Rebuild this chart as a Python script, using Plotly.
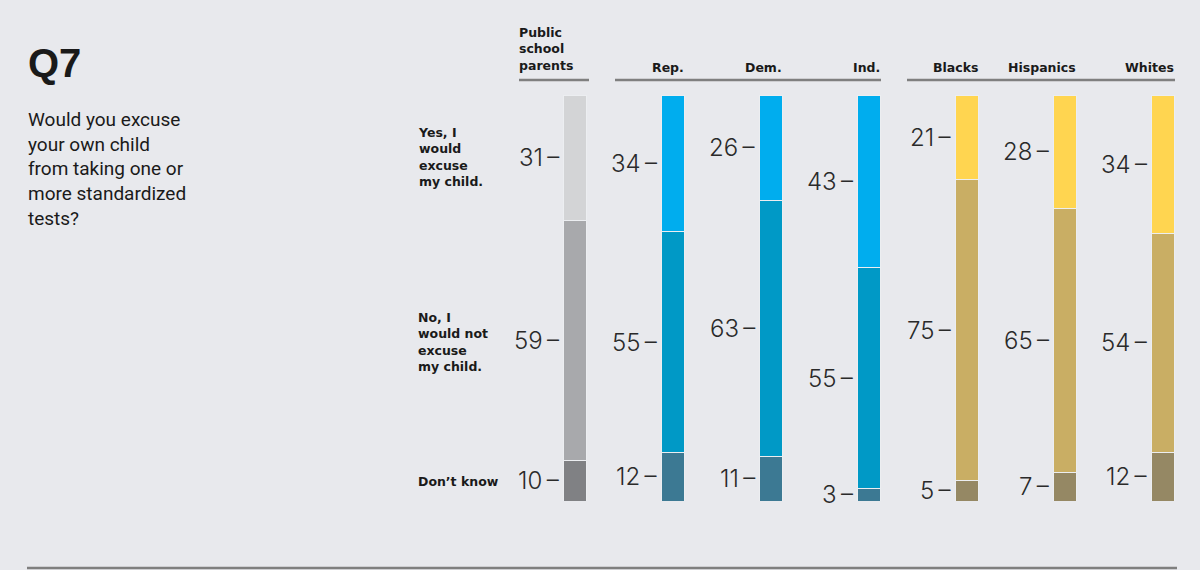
import plotly.graph_objects as go

# ---- data ----
groups = ["Public school parents", "Rep.", "Dem.", "Ind.", "Blacks", "Hispanics", "Whites"]
header_labels = ["Public<br>school<br>parents", "Rep.", "Dem.", "Ind.", "Blacks", "Hispanics", "Whites"]
yes_vals = [31, 34, 26, 43, 21, 28, 34]
no_vals = [59, 55, 63, 55, 75, 65, 54]
dk_vals = [10, 12, 11, 3, 5, 7, 12]
responses = ["Yes, I<br>would<br>excuse<br>my child.", "No, I<br>would not<br>excuse<br>my child.", "Don’t know"]

# ---- styles ----
BG = "#e8e9ed"
fam = ["pub", "party", "party", "party", "race", "race", "race"]
pal = {
    "pub": ("#d3d4d6", "#a8a9ac", "#808184"),
    "party": ("#00adee", "#0099c6", "#3c7993"),
    "race": ("#ffd550", "#c9ae64", "#958864"),
}
yes_cols = [pal[f][0] for f in fam]
no_cols = [pal[f][1] for f in fam]
dk_cols = [pal[f][2] for f in fam]

W, H = 1200, 570
ML, MR, MT, MB = 477, 17, 95, 69
plot_w = W - ML - MR
unit = 98.0
x0 = -1.0
x1 = x0 + plot_w / unit


def px(x):
    return (x - ML) / plot_w


def py(y):
    return (H - MB - y) / (H - MT - MB)


fig = go.Figure()
line = dict(color="#eceef1", width=1)
for name, vals, cols in [("Don't know", dk_vals, dk_cols),
                         ("No", no_vals, no_cols),
                         ("Yes", yes_vals, yes_cols)]:
    fig.add_trace(go.Bar(x=groups, y=vals, name=name, width=0.235,
                         marker=dict(color=cols, line=line), hoverinfo="skip"))

num_font = dict(family="Inter, Roboto, sans-serif", size=24, color="#2a2a2a", weight=300)
ann = []
for i, g in enumerate(groups):
    tot = yes_vals[i] + no_vals[i] + dk_vals[i]
    d = dk_vals[i] / tot * 100
    n = no_vals[i] / tot * 100
    y = yes_vals[i] / tot * 100
    for v, mid in [(dk_vals[i], d / 2), (no_vals[i], d + n / 2), (yes_vals[i], d + n + y / 2)]:
        ann.append(dict(x=g, y=mid, xref="x", yref="y", text=f"{v}\u2009–", showarrow=False,
                        xanchor="right", yanchor="middle", xshift=-14, font=num_font))

hdr_font = dict(family="DejaVu Sans", size=12.5, color="#1a1a1a", weight="bold")
for i, g in enumerate(groups):
    if i == 0:
        ann.append(dict(x=px(517), y=py(75), xref="paper", yref="paper", text=header_labels[i],
                        showarrow=False, xanchor="left", yanchor="bottom", align="left",
                        font=hdr_font))
    else:
        ann.append(dict(x=g, y=py(67), xref="x", yref="paper", text=header_labels[i],
                        showarrow=False, xanchor="right", yanchor="middle", xshift=13,
                        font=hdr_font))

row_font = dict(family="DejaVu Sans", size=12.5, color="#1a1a1a", weight="bold")
for txt, yp in zip(responses, [157, 342, 481]):
    ann.append(dict(x=px(416), y=py(yp), xref="paper", yref="paper", text=txt,
                    showarrow=False, xanchor="left", yanchor="middle", align="left",
                    font=row_font))

ann.append(dict(x=px(26), y=py(63), xref="paper", yref="paper", text="<b>Q7</b>",
                showarrow=False, xanchor="left", yanchor="middle",
                font=dict(family="Liberation Sans", size=40, color="#1a1a1a")))
ann.append(dict(x=px(26), y=py(106), xref="paper", yref="paper",
                text="Would you excuse<br>your own child<br>from taking one or<br>more standardized<br>tests?",
                showarrow=False, xanchor="left", yanchor="top", align="left",
                font=dict(family="Roboto", size=19, color="#1a1a1a")))

shapes = []
lc = "#7f7f7f"
for a, b, yy in [(519, 589, 80), (615, 881, 80), (907, 1175, 80), (27, 1177, 568)]:
    shapes.append(dict(type="line", xref="paper", yref="paper", x0=px(a), x1=px(b),
                       y0=py(yy), y1=py(yy), line=dict(color=lc, width=2.5)))

fig.update_layout(
    width=W, height=H, barmode="stack", barnorm="percent",
    margin=dict(l=ML, r=MR, t=MT, b=MB, pad=0),
    paper_bgcolor=BG, plot_bgcolor=BG, showlegend=False,
    xaxis=dict(range=[x0, x1], visible=False, fixedrange=True),
    yaxis=dict(range=[0, 100], visible=False, fixedrange=True),
    annotations=ann, shapes=shapes,
)
fig.write_html("out.html", config={"displayModeBar": False},
               post_script="document.body.style.margin='0';")
